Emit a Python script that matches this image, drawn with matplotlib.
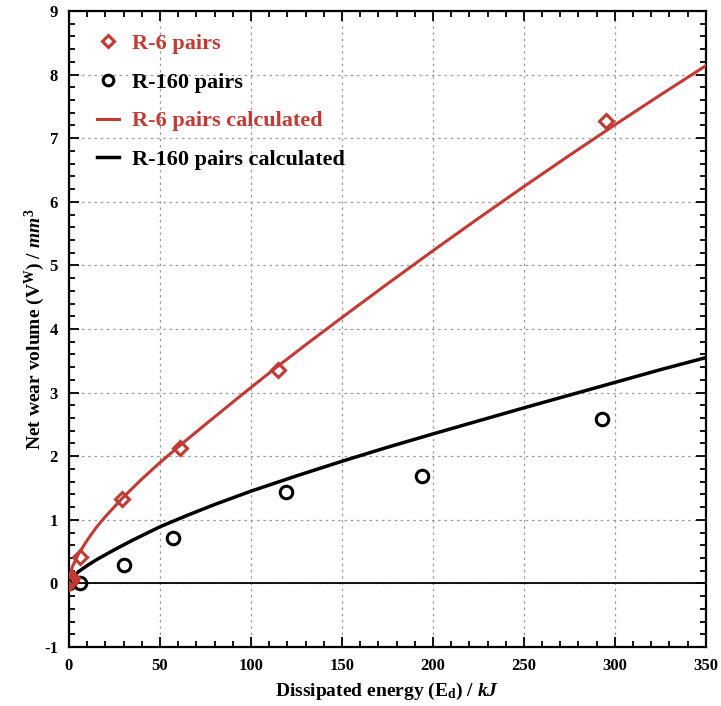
import matplotlib
matplotlib.use("Agg")
import matplotlib.pyplot as plt
from matplotlib.ticker import MultipleLocator

plt.rcParams['font.family'] = ['Liberation Serif', 'DejaVu Serif']
plt.rcParams['font.weight'] = 'bold'
plt.rcParams['mathtext.fontset'] = 'custom'
plt.rcParams['mathtext.rm'] = 'Liberation Serif:bold'
plt.rcParams['mathtext.it'] = 'Liberation Serif:bold:italic'
plt.rcParams['mathtext.bf'] = 'Liberation Serif:bold'
plt.rcParams['axes.unicode_minus'] = False

RED = '#c43a33'

# Measured data
r6_x = [0, 0.5, 1, 1.5, 6, 29, 61, 115, 295]
r6_y = [0, 0.03, 0.05, 0.08, 0.42, 1.33, 2.13, 3.36, 7.27]
r160_x = [0, 6, 30, 57, 119, 194, 293]
r160_y = [0, 0, 0.29, 0.72, 1.44, 1.69, 2.59]

# Calculated curves
r6c_x = [0, 1, 2, 5, 10, 15, 20, 29, 40, 50, 61, 75, 90, 100, 115, 130, 150,
         175, 200, 225, 250, 275, 300, 325, 350]
r6c_y = [0, 0.18, 0.27, 0.45, 0.68, 0.88, 1.05, 1.33, 1.64, 1.9, 2.17, 2.5, 2.85,
         3.08, 3.42, 3.75, 4.18, 4.71, 5.23, 5.74, 6.24, 6.73, 7.21, 7.68, 8.14]
r160c_x = [0, 1, 2, 5, 10, 15, 20, 25, 35, 50, 65, 80, 100, 125, 150, 175, 200,
           225, 250, 275, 300, 325, 350]
r160c_y = [0, 0.05, 0.09, 0.18, 0.28, 0.37, 0.45, 0.53, 0.68, 0.89, 1.07, 1.24,
           1.45, 1.69, 1.92, 2.14, 2.35, 2.555, 2.76, 2.96, 3.16, 3.36, 3.55]

xticks = [0, 50, 100, 150, 200, 250, 300, 350]
yticks = [-1, 0, 1, 2, 3, 4, 5, 6, 7, 8, 9]

fig = plt.figure(figsize=(7.21, 7.06), dpi=100)
ax = fig.add_axes([0.0957, 0.0836, 0.8833, 0.9008])

ax.axhline(0, color='black', lw=1.3, zorder=1)

ax.plot(r6c_x, r6c_y, color=RED, lw=2.2, label='R-6 pairs calculated', zorder=3)
ax.plot(r160c_x, r160c_y, color='black', lw=2.5, label='R-160 pairs calculated', zorder=3)
ax.plot(r160_x, r160_y, linestyle='none', marker='o', ms=9, mfc='none', mec='black',
        mew=2.2, label='R-160 pairs', zorder=4)
ax.plot(r6_x, r6_y, linestyle='none', marker='D', ms=7.5, mfc='none', mec=RED,
        mew=2.2, label='R-6 pairs', zorder=5)

ax.set_xlim(0, 350)
ax.set_ylim(-1, 9)
ax.set_xticks(xticks)
ax.set_yticks(yticks)
ax.xaxis.set_minor_locator(MultipleLocator(10))
ax.yaxis.set_minor_locator(MultipleLocator(0.2))
ax.tick_params(which='both', direction='in', top=True, right=True, width=1.3,
               labelsize=12)
ax.tick_params(which='major', length=7, pad=8)
ax.tick_params(which='minor', length=4)
for lab in ax.get_xticklabels() + ax.get_yticklabels():
    lab.set_fontweight('bold')
for s in ax.spines.values():
    s.set_linewidth(1.6)

ax.grid(True, which='major', linestyle=(0, (2, 3)), color='#999999', lw=0.9)
ax.set_axisbelow(True)

ax.set_xlabel(r'Dissipated energy (E$_{\mathrm{d}}$) / $kJ$', fontsize=14, fontweight='bold', labelpad=5)
ax.set_ylabel(r'Net wear volume (V$^{\mathrm{W}}$) / $mm^3$', fontsize=14, fontweight='bold', labelpad=-2)

handles, labels = ax.get_legend_handles_labels()
order = [3, 2, 0, 1]
leg = ax.legend([handles[i] for i in order], [labels[i] for i in order],
                loc='upper left', bbox_to_anchor=(0.0303, 0.979), frameon=False,
                labelspacing=0.82, handlelength=1.0, handletextpad=0.58,
                borderaxespad=0.0, borderpad=0.4, markerscale=0.85,
                prop={'weight': 'bold', 'size': 16})
for txt, col in zip(leg.get_texts(), [RED, 'black', RED, 'black']):
    txt.set_color(col)

fig.savefig('out.png', dpi=100)
